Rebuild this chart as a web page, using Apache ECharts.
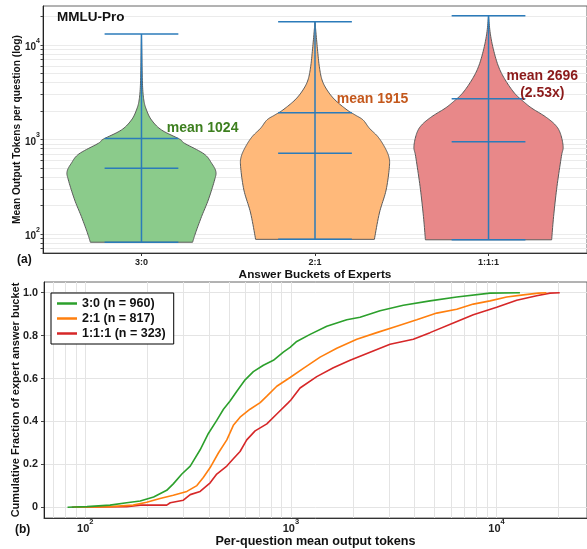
<!DOCTYPE html>
<html><head><meta charset="utf-8">
<script src="https://cdn.jsdelivr.net/npm/echarts@6/dist/echarts.min.js"></script>
<style>html,body{margin:0;padding:0;background:#fff}#c{width:587px;height:549px}</style>
</head><body><div id="c"></div><script>
// ---------- data ----------
const categories = ['3:0', '2:1', '1:1:1'];
// violin outlines: token level (y) and relative density (half width, 0..1)
const violinTokens30 = [82, 103, 153, 229, 373, 457, 560, 702, 911, 1004, 1260, 1607, 2049, 2615, 3925, 8830, 13000];
const violinDensity30 = [0.685, 0.725, 0.805, 0.895, 0.98, 0.997, 0.94, 0.839, 0.577, 0.514, 0.268, 0.134, 0.067, 0.031, 0.013, 0.004, 0];
const violinTokens21 = [88, 167, 292, 516, 658, 839, 1070, 1313, 1607, 1815, 2049, 2615, 3334, 4254, 5880, 8830, 13360, 17500];
const violinDensity21 = [0.796, 0.863, 0.953, 0.997, 0.989, 0.93, 0.842, 0.729, 0.644, 0.537, 0.43, 0.268, 0.161, 0.094, 0.058, 0.034, 0.013, 0];
const violinTokens111 = [87, 153, 317, 658, 839, 1162, 1423, 1741, 2136, 2508, 3077, 4254, 5880, 8830, 13260, 20300];
const violinDensity111 = [0.846, 0.872, 0.917, 0.976, 1.0, 0.962, 0.895, 0.761, 0.581, 0.47, 0.349, 0.224, 0.134, 0.067, 0.023, 0];
const mins = [82, 88, 87];
const maxs = [13000, 17500, 20300];
const medians = [496, 714, 947];
const means = [1024, 1915, 2696];
const meanLabels = ['mean 1024', 'mean 1915', 'mean 2696\n(2.53x)'];

// empirical CDFs: tokens and cumulative fraction
const cdf30Tokens = [82, 102, 132, 159, 185, 215, 249, 268, 295, 324, 362, 397, 436, 470, 506, 546, 599, 657, 735, 822, 919, 991, 1068, 1240, 1495, 1870, 2170, 2714, 3524, 4750, 6406, 9299, 13000];
const cdf30Frac = [0, 0.003, 0.01, 0.021, 0.029, 0.048, 0.079, 0.109, 0.155, 0.192, 0.268, 0.344, 0.405, 0.457, 0.495, 0.541, 0.594, 0.632, 0.662, 0.685, 0.723, 0.745, 0.773, 0.806, 0.844, 0.874, 0.886, 0.916, 0.942, 0.962, 0.98, 0.998, 1.0];
const cdf21Tokens = [88, 132, 171, 199, 231, 268, 312, 349, 375, 405, 444, 488, 525, 566, 633, 709, 764, 854, 991, 1150, 1387, 1672, 2092, 2617, 3272, 4093, 5121, 6406, 7713, 9299, 11210, 13500, 16000, 17500];
const cdf21Frac = [0, 0.003, 0.01, 0.023, 0.041, 0.056, 0.074, 0.101, 0.139, 0.185, 0.253, 0.314, 0.382, 0.42, 0.457, 0.488, 0.518, 0.564, 0.605, 0.647, 0.7, 0.741, 0.783, 0.814, 0.844, 0.874, 0.905, 0.923, 0.947, 0.962, 0.98, 0.99, 0.998, 1.0];
const cdf111Tokens = [86, 159, 185, 249, 259, 300, 324, 362, 405, 436, 488, 525, 566, 610, 670, 764, 854, 972, 1000, 1108, 1336, 1609, 1941, 2427, 3036, 3940, 4750, 6166, 7713, 10020, 12540, 15680, 18200, 20300];
const cdf111Frac = [0, 0.003, 0.01, 0.01, 0.021, 0.033, 0.059, 0.074, 0.114, 0.155, 0.192, 0.226, 0.26, 0.314, 0.356, 0.389, 0.435, 0.488, 0.5, 0.556, 0.609, 0.65, 0.685, 0.723, 0.76, 0.783, 0.814, 0.859, 0.897, 0.932, 0.965, 0.986, 0.998, 1.0];
const legendNames = ['3:0 (n = 960)', '2:1 (n = 817)', '1:1:1 (n = 323)'];

const logMajorTicks = [100, 1000, 10000];
const logGridTicks = [70, 80, 90, 100, 200, 300, 400, 500, 600, 700, 800, 900, 1000, 2000, 3000, 4000, 5000, 6000, 7000, 8000, 9000, 10000, 20000];
const fracTicks = [0, 0.2, 0.4, 0.6, 0.8, 1.0];

// ---------- styles ----------
const FONT = '"Liberation Sans", Arial, Helvetica, sans-serif';
const lineColors = ['#2ca02c', '#ff7f0e', '#d62728'];
const violinFill = ['#8bcb8b', '#ffb97a', '#e88889'];
const labelColors = ['#3d7f1f', '#c4581c', '#8b1a1a'];
const statColor = '#2b7bba';
const HALF = 0.43, CAP = 0.2125;
const labelAnchor = [
  {dx: 0.146, y: 1321, align: 'left'},
  {dx: 0.125, y: 2660, align: 'left'},
  {dx: 0.31, y: 3770, align: 'center'}
];
const violinTokens = [violinTokens30, violinTokens21, violinTokens111];
const violinDensity = [violinDensity30, violinDensity21, violinDensity111];
const cdfTokens = [cdf30Tokens, cdf21Tokens, cdf111Tokens];
const cdfFrac = [cdf30Frac, cdf21Frac, cdf111Frac];

// smooth a pixel polyline with Catmull-Rom curves (rendering only)
function smoothSide(p) {
  const out = [p[0]];
  const n = p.length;
  for (let i = 0; i < n - 1; i++) {
    const p0 = p[Math.max(i - 1, 0)], p1 = p[i], p2 = p[i + 1], p3 = p[Math.min(i + 2, n - 1)];
    for (let s = 1; s <= 10; s++) {
      const t = s / 10, t2 = t * t, t3 = t2 * t;
      const f = (a, b, c, d) => 0.5 * ((2 * b) + (-a + c) * t + (2 * a - 5 * b + 4 * c - d) * t2 + (-a + 3 * b - 3 * c + d) * t3);
      out.push([f(p0[0], p1[0], p2[0], p3[0]), f(p0[1], p1[1], p2[1], p3[1])]);
    }
  }
  return out;
}

function supFmt(v) {
  return '{b|10}{s|' + Math.round(Math.log10(v)) + '}';
}
function supRich(base, sup) {
  return {
    b: {fontSize: base, fontWeight: 'bold', color: '#222', fontFamily: FONT, lineHeight: base + 5, verticalAlign: 'bottom'},
    s: {fontSize: sup, fontWeight: 'bold', color: '#222', fontFamily: FONT, verticalAlign: 'top'}
  };
}

const chart = echarts.init(document.getElementById('c'), null, {renderer: 'canvas'});
const option = {
  animation: false,
  backgroundColor: '#fff',
  textStyle: {fontFamily: FONT},
  grid: [
    {left: 43, top: 6, width: 544, height: 247, show: true, borderColor: '#666', borderWidth: 1, containLabel: false},
    {left: 44, top: 282, width: 543, height: 241.3, show: true, borderColor: '#666', borderWidth: 1, containLabel: false}
  ],
  xAxis: [
    {
      gridIndex: 0, type: 'value', min: -0.5675, max: 2.5675,
      axisLine: {show: true, onZero: false, lineStyle: {color: '#333', width: 1}},
      axisTick: {show: true, customValues: [0, 1, 2], length: 3, lineStyle: {color: '#333'}},
      axisLabel: {customValues: [0, 1, 2], formatter: v => categories[Math.round(v)], fontSize: 9, fontWeight: 'bold', color: '#222', margin: 5},
      splitLine: {show: false},
      name: 'Answer Buckets of Experts', nameLocation: 'middle', nameGap: 16, nameMoveOverlap: false,
      nameTextStyle: {fontSize: 11.8, fontWeight: 'bold', color: '#111'}
    },
    {
      gridIndex: 1, type: 'log', logBase: 10, min: 63, max: 27550,
      axisLine: {show: true, onZero: false, lineStyle: {color: '#333', width: 1}},
      axisTick: {show: false, customValues: logGridTicks},
      axisLabel: {customValues: logMajorTicks, formatter: supFmt, rich: supRich(11, 7.5), margin: 0},
      splitLine: {show: true, lineStyle: {color: '#e4e4e4', width: 1}},
      name: 'Per-question mean output tokens', nameLocation: 'middle', nameGap: 17, nameMoveOverlap: false,
      nameTextStyle: {fontSize: 12.6, fontWeight: 'bold', color: '#111'}
    }
  ],
  yAxis: [
    {
      gridIndex: 0, type: 'log', logBase: 10, min: 63.1, max: 25700,
      axisLine: {show: true, onZero: false, lineStyle: {color: '#222', width: 1}},
      axisTick: {show: true, customValues: logGridTicks, length: 2.5, lineStyle: {color: '#444'}},
      axisLabel: {customValues: logMajorTicks, formatter: supFmt, rich: supRich(10, 7), margin: 3},
      splitLine: {show: true, lineStyle: {color: '#ebebeb', width: 1}},
      name: 'Mean Output Tokens per question (log)', nameLocation: 'middle', nameRotate: 90, nameGap: 21, nameMoveOverlap: false,
      nameTextStyle: {fontSize: 10.2, fontWeight: 'bold', color: '#111'}
    },
    {
      gridIndex: 1, type: 'value', min: -0.05, max: 1.05,
      axisLine: {show: true, onZero: false, lineStyle: {color: '#222', width: 1}},
      axisTick: {show: true, customValues: fracTicks, length: 3, lineStyle: {color: '#444'}},
      axisLabel: {customValues: fracTicks, formatter: v => (Math.abs(v) < 1e-9 ? '0' : v.toFixed(1)), fontSize: 10.8, fontWeight: 'bold', color: '#222', margin: 6},
      splitLine: {show: true, lineStyle: {color: '#e4e4e4', width: 1}},
      name: 'Cumulative Fraction of expert answer bucket', nameLocation: 'middle', nameRotate: 90, nameGap: 23, nameMoveOverlap: false,
      nameTextStyle: {fontSize: 11, fontWeight: 'bold', color: '#111'}
    }
  ],
  legend: {
    data: legendNames, orient: 'vertical', left: 51, top: 293,
    backgroundColor: '#fff', borderColor: '#000', borderWidth: 1, borderRadius: 0,
    padding: [4, 8, 4, 6], itemGap: 2, itemWidth: 20, itemHeight: 2.5, icon: 'rect',
    textStyle: {fontSize: 12.5, fontWeight: 'bold', color: '#111'}
  },
  graphic: [
    {type: 'text', left: 57, top: 10, z: 100, style: {text: 'MMLU-Pro', font: 'bold 13.5px ' + FONT, fill: '#111'}},
    {type: 'text', left: 17, top: 254, z: 100, style: {text: '(a)', font: 'bold 12px ' + FONT, fill: '#111'}},
    {type: 'text', left: 15, top: 524, z: 100, style: {text: '(b)', font: 'bold 12px ' + FONT, fill: '#111'}}
  ],
  series: [
    {
      type: 'custom', xAxisIndex: 0, yAxisIndex: 0, clip: false,
      data: categories.map((c, i) => [i, means[i]]),
      renderItem: (params, api) => {
        const i = params.dataIndex;
        const toks = violinTokens[i], dens = violinDensity[i];
        const right = toks.map((t, k) => api.coord([i + dens[k] * HALF, t]));
        const left = [];
        for (let k = toks.length - 1; k >= 0; k--) left.push(api.coord([i - dens[k] * HALF, toks[k]]));
        const pts = smoothSide(right).concat(smoothSide(left).slice(1));
        const children = [{
          type: 'polygon', shape: {points: pts},
          style: {fill: violinFill[i], stroke: '#5a5a5a', lineWidth: 1}
        }];
        const seg = (a, b) => ({type: 'line', shape: {x1: a[0], y1: a[1], x2: b[0], y2: b[1]}, style: {stroke: statColor, lineWidth: 1.5}});
        children.push(seg(api.coord([i, mins[i]]), api.coord([i, maxs[i]])));
        [mins[i], maxs[i], medians[i], means[i]].forEach(v => children.push(seg(api.coord([i - CAP, v]), api.coord([i + CAP, v]))));
        const an = labelAnchor[i];
        const p = api.coord([i + an.dx, an.y]);
        children.push({
          type: 'text', x: p[0], y: p[1],
          style: {text: meanLabels[i], fill: labelColors[i], font: 'bold 14px ' + FONT, align: an.align, verticalAlign: 'middle', lineHeight: 16.6}
        });
        return {type: 'group', children};
      }
    },
    ...[0, 1, 2].map(k => ({
      name: legendNames[k], type: 'line', xAxisIndex: 1, yAxisIndex: 1,
      showSymbol: false, symbol: 'none',
      data: cdfTokens[k].map((t, j) => [t, cdfFrac[k][j]]),
      lineStyle: {color: lineColors[k], width: 1.6},
      itemStyle: {color: lineColors[k]},
      z: 5 - k
    }))
  ]
};
chart.setOption(option);
</script></body></html>
